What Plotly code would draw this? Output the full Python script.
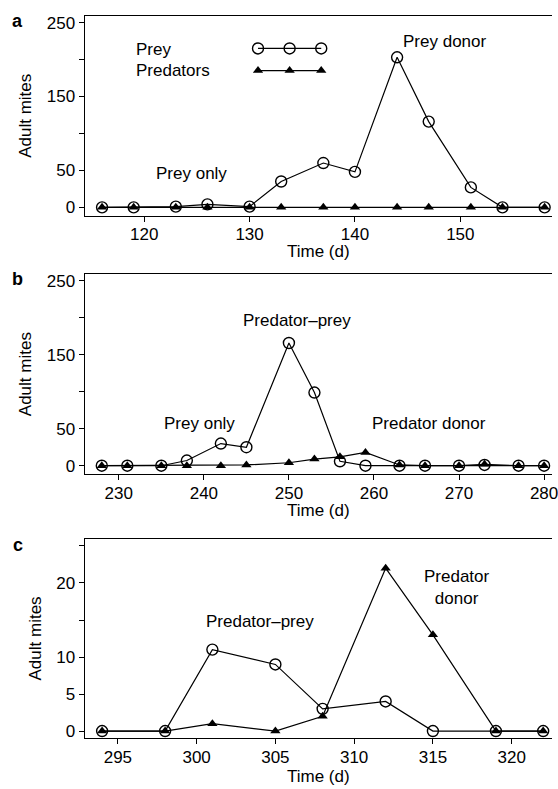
import plotly.graph_objects as go

# ---------------- data ----------------
a_days = [116, 119, 123, 126, 130, 133, 137, 140, 144, 147, 151, 154, 158]
a_prey = [0, 0, 1, 4, 1, 35, 60, 48, 203, 116, 27, 0, 0]
a_pred = [0, 0, 0, 0, 0, 0, 0, 0, 0, 0, 0, 0, 0]

b_days = [228, 231, 235, 238, 242, 245, 250, 253, 256, 259, 263, 266, 270, 273, 277, 280]
b_prey = [0, 0, 0, 7, 30, 25, 166, 99, 6, 0, 0, 0, 0, 1, 0, 0]
b_pred = [0, 0, 0, 0, 0, 1, 4, 9, 12, 18, 1, 0, 0, 2, 0, 0]

c_days = [294, 298, 301, 305, 308, 312, 315, 319, 322]
c_prey = [0, 0, 11, 9, 3, 4, 0, 0, 0]
c_pred = [0, 0, 1, 0, 2, 22, 13, 0, 0]

# legend key (drawn inside panel a)
key_days = [130.8, 133.8, 136.8]
key_prey = [215, 215, 215]
key_pred = [185, 185, 185]

y_ticks_ab = [0, 50, 100, 150, 200, 250]
y_text_ab = ["0", "50", "", "150", "", "250"]
y_ticks_c = [0, 5, 10, 15, 20, 25]
y_text_c = ["0", "5", "10", "", "20", ""]

x_ticks_a = [120, 130, 140, 150]
x_ticks_b = [230, 240, 250, 260, 270, 280]
x_ticks_c = [295, 300, 305, 310, 315, 320]

# ---------------- styling ----------------
FONT = "Liberation Sans, Arial, Helvetica, sans-serif"
FS = 17
W, H = 558, 789

prey_marker = dict(symbol="circle-open", size=11, color="black", line=dict(width=1.4, color="black"))
pred_marker = dict(symbol="triangle-up", size=9, color="black", line=dict(width=0, color="black"))
line_style = dict(color="black", width=1.2)

fig = go.Figure()

panels = [
    (a_days, a_prey, a_pred, "x", "y"),
    (b_days, b_prey, b_pred, "x2", "y2"),
    (c_days, c_prey, c_pred, "x3", "y3"),
]
for days, prey, pred, xa, ya in panels:
    fig.add_trace(go.Scatter(x=days, y=pred, mode="lines+markers", marker=pred_marker,
                             line=line_style, xaxis=xa, yaxis=ya, showlegend=False, cliponaxis=False))
    fig.add_trace(go.Scatter(x=days, y=prey, mode="lines+markers", marker=prey_marker,
                             line=line_style, xaxis=xa, yaxis=ya, showlegend=False, cliponaxis=False))

# legend key in panel a
fig.add_trace(go.Scatter(x=key_days, y=key_prey, mode="lines+markers", marker=prey_marker,
                         line=line_style, xaxis="x", yaxis="y", showlegend=False))
fig.add_trace(go.Scatter(x=key_days, y=key_pred, mode="lines+markers", marker=pred_marker,
                         line=line_style, xaxis="x", yaxis="y", showlegend=False))

# pixel geometry -> paper domains
def ydom(top_px, bot_px):
    return [1 - bot_px / H, 1 - top_px / H]

xdom = [85.7 / W, 1.0]

axis_common = dict(showline=True, linecolor="black", linewidth=1.3, ticks="outside",
                   ticklen=5, tickwidth=1.2, tickcolor="black", showgrid=False, zeroline=False,
                   ticklabeloverflow="allow",
                   tickfont=dict(family=FONT, size=FS, color="black"))

def xaxis(rng, ticks, anchor):
    d = dict(axis_common)
    d.update(domain=xdom, range=rng, tickvals=ticks, anchor=anchor, mirror=True,
             ticklabelstandoff=-2)
    return d

def yaxis(rng, ticks, text, dom, anchor):
    d = dict(axis_common)
    d.update(domain=dom, range=rng, tickvals=ticks, ticktext=text, anchor=anchor, mirror=False,
             title=dict(text="Adult mites", font=dict(family=FONT, size=FS, color="black"), standoff=10))
    return d

fig.update_layout(
    width=W, height=H,
    margin=dict(l=0, r=0, t=0, b=0),
    paper_bgcolor="white", plot_bgcolor="white",
    font=dict(family=FONT, size=FS, color="black"),
    xaxis=xaxis([114.36, 158.7], x_ticks_a, "y"),
    yaxis=yaxis([-11.2, 259], y_ticks_ab, y_text_ab, ydom(14, 215), "x"),
    xaxis2=xaxis([226.0, 280.93], x_ticks_b, "y2"),
    yaxis2=yaxis([-11.2, 259], y_ticks_ab, y_text_ab, ydom(274, 475), "x2"),
    xaxis3=xaxis([292.9, 322.56], x_ticks_c, "y3"),
    yaxis3=yaxis([-0.98, 26.0], y_ticks_c, y_text_c, ydom(540, 741), "x3"),
)

ann = [
    # panel a
    dict(x=119.0, y=214, xref="x", yref="y", text="Prey", xanchor="left"),
    dict(x=119.0, y=185, xref="x", yref="y", text="Predators", xanchor="left"),
    dict(x=124.5, y=46, xref="x", yref="y", text="Prey only"),
    dict(x=148.5, y=224, xref="x", yref="y", text="Prey donor"),
    # panel b
    dict(x=251.0, y=196, xref="x2", yref="y2", text="Predator\u2013prey"),
    dict(x=239.5, y=57, xref="x2", yref="y2", text="Prey only"),
    dict(x=266.5, y=57, xref="x2", yref="y2", text="Predator donor"),
    # panel c
    dict(x=304.0, y=14.75, xref="x3", yref="y3", text="Predator\u2013prey"),
    dict(x=316.5, y=19.35, xref="x3", yref="y3", text="Predator<br>donor"),
]
for a in ann:
    a.setdefault("xanchor", "center")
    a.update(showarrow=False, yanchor="middle", font=dict(family=FONT, size=FS, color="black"))
    fig.add_annotation(**a)

# x-axis titles
xmid = (xdom[0] + xdom[1]) / 2
for ypx in [251, 512, 779]:
    fig.add_annotation(x=xmid, y=1 - ypx / H, xref="paper", yref="paper", text="Time (d)",
                       showarrow=False, xanchor="center", yanchor="middle",
                       font=dict(family=FONT, size=FS, color="black"))

for letter, ypx in [("a", 19), ("b", 279), ("c", 546)]:
    fig.add_annotation(x=18 / W, y=1 - ypx / H, xref="paper", yref="paper", text=f"<b>{letter}</b>",
                       showarrow=False, xanchor="center", yanchor="middle",
                       font=dict(family=FONT, size=18, color="black"))

fig.write_html("out.html")
